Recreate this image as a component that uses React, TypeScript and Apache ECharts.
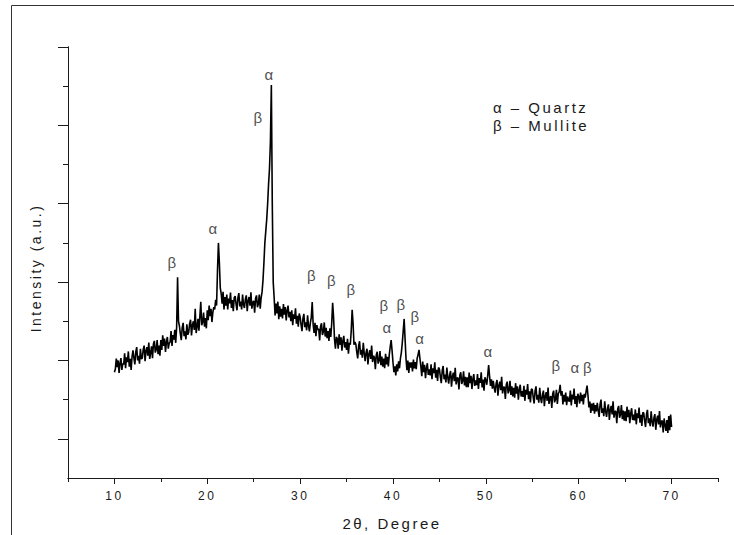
import { useEffect, useRef } from 'react';
import * as echarts from 'echarts';

// 2θ sampling of the pattern
const startDeg = 10;
const stepDeg = 0.1;

// Intensity (a.u.), one row per degree (10.0 … 69.9), then 70.0
const intensity: number[] = [
  2.70, 2.78, 3.05, 2.83, 3.00, 2.68, 2.93, 3.06, 2.76, 2.92,
  2.90, 3.18, 2.80, 3.08, 2.96, 3.23, 2.84, 3.04, 2.76, 3.10,
  3.26, 3.06, 2.90, 3.22, 3.34, 3.00, 3.12, 2.92, 3.30, 3.04,
  3.06, 3.28, 3.38, 2.98, 3.24, 3.34, 3.12, 3.46, 3.04, 3.20,
  3.36, 3.06, 3.42, 3.50, 3.20, 3.28, 3.52, 3.16, 3.38, 3.12,
  3.52, 3.27, 3.64, 3.37, 3.56, 3.22, 3.47, 3.60, 3.30, 3.44,
  3.47, 3.75, 3.37, 3.65, 3.53, 3.78, 3.45, 3.85, 5.12, 4.00,
  3.88, 3.68, 3.52, 3.84, 3.96, 3.62, 3.74, 3.54, 3.92, 3.66,
  3.72, 3.94, 4.04, 3.64, 3.90, 4.00, 3.78, 4.32, 3.70, 3.86,
  4.06, 3.76, 4.12, 4.50, 3.90, 3.98, 4.22, 3.86, 4.08, 3.82,
  4.28, 4.03, 4.40, 4.13, 4.32, 3.98, 4.23, 4.36, 4.30, 4.55,
  4.40, 5.30, 6.00, 5.50, 4.85, 4.70, 4.45, 4.75, 4.30, 4.62,
  4.40, 4.68, 4.30, 4.58, 4.46, 4.73, 4.34, 4.54, 4.26, 4.60,
  4.64, 4.44, 4.28, 4.60, 4.72, 4.38, 4.50, 4.30, 4.68, 4.42,
  4.34, 4.56, 4.66, 4.26, 4.52, 4.62, 4.40, 4.74, 4.32, 4.48,
  4.52, 4.22, 4.58, 4.66, 4.36, 4.44, 4.68, 4.32, 4.60, 4.75,
  5.05, 5.50, 6.00, 6.30, 6.60, 7.00, 7.50, 7.90, 8.60, 10.03,
  7.00, 5.00, 4.60, 4.15, 4.45, 4.20, 4.50, 4.05, 4.38, 4.12,
  4.32, 4.07, 4.44, 4.17, 4.36, 4.02, 4.27, 4.40, 4.10, 4.24,
  4.00, 4.28, 3.90, 4.18, 4.06, 4.33, 3.94, 4.14, 3.86, 4.20,
  4.11, 3.91, 3.75, 4.07, 4.19, 3.85, 3.97, 3.77, 4.15, 3.89,
  3.74, 3.96, 4.10, 4.49, 3.92, 3.70, 3.96, 3.62, 3.90, 3.78,
  3.81, 3.51, 3.87, 3.95, 3.65, 3.73, 3.97, 3.61, 3.83, 3.57,
  3.75, 3.50, 3.82, 3.60, 3.95, 4.47, 4.10, 3.55, 3.30, 3.60,
  3.55, 3.30, 3.67, 3.40, 3.59, 3.25, 3.50, 3.63, 3.33, 3.47,
  3.27, 3.55, 3.17, 3.45, 3.40, 3.75, 4.29, 3.95, 3.40, 3.47,
  3.41, 3.21, 3.05, 3.37, 3.49, 3.15, 3.27, 3.07, 3.45, 3.19,
  2.98, 3.20, 3.30, 2.90, 3.16, 3.26, 3.04, 3.38, 2.96, 3.12,
  3.08, 2.78, 3.14, 3.22, 2.92, 3.00, 3.24, 2.88, 3.10, 2.84,
  3.05, 2.80, 3.17, 2.90, 3.09, 2.85, 3.15, 3.35, 3.52, 3.25,
  2.95, 2.70, 2.85, 2.62, 2.90, 2.72, 2.98, 2.80, 3.05, 3.20,
  3.45, 3.75, 4.06, 3.55, 3.05, 2.75, 3.00, 2.68, 2.95, 2.82,
  2.95, 2.72, 3.02, 2.80, 2.96, 2.78, 3.05, 3.15, 3.27, 3.05,
  2.85, 2.60, 2.97, 2.70, 2.89, 2.55, 2.80, 2.93, 2.63, 2.77,
  2.62, 2.90, 2.52, 2.80, 2.68, 2.95, 2.56, 2.76, 2.48, 2.82,
  2.78, 2.58, 2.42, 2.74, 2.86, 2.52, 2.64, 2.44, 2.82, 2.56,
  2.41, 2.63, 2.73, 2.33, 2.59, 2.69, 2.47, 2.81, 2.39, 2.55,
  2.56, 2.26, 2.62, 2.70, 2.40, 2.48, 2.72, 2.36, 2.58, 2.32,
  2.57, 2.32, 2.69, 2.42, 2.61, 2.27, 2.52, 2.65, 2.35, 2.49,
  2.37, 2.65, 2.27, 2.55, 2.43, 2.70, 2.31, 2.51, 2.23, 2.57,
  2.50, 2.38, 2.62, 2.88, 2.60, 2.35, 2.52, 2.28, 2.48, 2.30,
  2.18, 2.40, 2.50, 2.10, 2.36, 2.46, 2.24, 2.58, 2.16, 2.32,
  2.32, 2.02, 2.38, 2.46, 2.16, 2.24, 2.48, 2.12, 2.34, 2.08,
  2.30, 2.05, 2.42, 2.15, 2.34, 2.00, 2.25, 2.38, 2.08, 2.22,
  2.07, 2.35, 1.97, 2.25, 2.13, 2.40, 2.01, 2.21, 1.93, 2.27,
  2.26, 2.06, 1.90, 2.22, 2.34, 2.00, 2.12, 1.92, 2.30, 2.04,
  1.91, 2.13, 2.23, 1.83, 2.09, 2.19, 1.97, 2.31, 1.89, 2.05,
  2.09, 1.79, 2.15, 2.23, 1.93, 2.01, 2.25, 1.89, 2.15, 2.20,
  2.38, 2.10, 2.22, 1.88, 2.12, 1.95, 2.18, 1.86, 2.08, 1.98,
  1.95, 2.23, 1.85, 2.13, 2.01, 2.28, 1.89, 2.09, 1.81, 2.15,
  2.08, 1.90, 2.18, 1.96, 2.12, 1.88, 2.15, 2.05, 2.22, 2.36,
  2.10, 1.80, 1.95, 1.66, 1.90, 1.72, 1.92, 1.64, 1.86, 1.70,
  1.92, 1.72, 1.56, 1.88, 2.00, 1.66, 1.78, 1.58, 1.96, 1.70,
  1.56, 1.78, 1.88, 1.48, 1.74, 1.84, 1.62, 1.96, 1.54, 1.70,
  1.70, 1.40, 1.76, 1.84, 1.54, 1.62, 1.86, 1.50, 1.72, 1.46,
  1.70, 1.45, 1.82, 1.55, 1.74, 1.40, 1.65, 1.78, 1.48, 1.62,
  1.47, 1.75, 1.37, 1.65, 1.53, 1.80, 1.41, 1.61, 1.33, 1.67,
  1.66, 1.46, 1.30, 1.62, 1.74, 1.40, 1.52, 1.32, 1.70, 1.44,
  1.31, 1.53, 1.63, 1.23, 1.49, 1.59, 1.37, 1.71, 1.29, 1.45,
  1.46, 1.16, 1.52, 1.35, 1.20, 1.48, 1.15, 1.58, 1.22, 1.62,
  1.30,
];

// Axis ticks
const xMajorTicks = [10, 20, 30, 40, 50, 60, 70];
const xMinorTicks = [5, 15, 25, 35, 45, 55, 65, 75];
const yMajorTicks = [1, 3, 5, 7, 9, 11];
const yMinorTicks = [2, 4, 6, 8, 10];

// Phase labels over the reflections
const peakLabelText = ['β', 'α', 'β', 'α', 'β', 'β', 'β', 'β', 'α', 'β', 'β', 'α', 'α', 'β', 'α', 'β'];
const peakLabelDeg = [16.31, 20.72, 25.57, 26.75, 31.33, 33.48, 35.58, 39.14, 39.46, 40.97, 42.48, 43.01, 50.34, 57.66, 59.71, 61.05];
const peakLabelVal = [5.51, 6.36, 9.21, 10.31, 5.17, 5.03, 4.82, 4.39, 3.83, 4.44, 4.11, 3.55, 3.23, 2.88, 2.81, 2.82];

const legendLines = ['α – Quartz', 'β – Mullite'];
const xTitle = '2θ, Degree';
const yTitle = 'Intensity (a.u.)';

export default function App() {
  const ref = useRef<HTMLDivElement>(null);

  useEffect(() => {
    if (!ref.current) return;
    const chart = echarts.init(ref.current, null, { renderer: 'svg' });
    const family = '"Liberation Sans", Arial, sans-serif';
    const axisColor = '#1a1a1a';
    const textColor = '#1a1a1a';

    const lineData = intensity.map((v, i) => [Number((startDeg + i * stepDeg).toFixed(1)), v]);
    const labelData = peakLabelText.map((t, i) => ({ name: t, value: [peakLabelDeg[i], peakLabelVal[i]] }));

    const axisLine = { show: true, lineStyle: { color: axisColor, width: 1 } };

    chart.setOption({
      animation: false,
      backgroundColor: '#ffffff',
      grid: { left: 68, right: 16, top: 47, bottom: 57, containLabel: false, outerBoundsMode: 'none' },
      xAxis: [
        {
          type: 'value', min: 5, max: 75, position: 'bottom',
          axisLine,
          axisTick: { show: true, length: 6, customValues: xMajorTicks, lineStyle: { color: axisColor, width: 1 } },
          axisLabel: { show: true, customValues: xMajorTicks, margin: 12, color: textColor, fontSize: 12, fontFamily: family },
          splitLine: { show: false },
        },
        {
          type: 'value', min: 5, max: 75, position: 'bottom',
          axisLine,
          axisTick: { show: true, length: 4, customValues: xMinorTicks, lineStyle: { color: axisColor, width: 1 } },
          axisLabel: { show: false },
          splitLine: { show: false },
        },
      ],
      yAxis: [
        {
          type: 'value', min: 0, max: 11, position: 'left',
          axisLine,
          axisTick: { show: true, length: 10, customValues: yMajorTicks, lineStyle: { color: axisColor, width: 1 } },
          axisLabel: { show: false },
          splitLine: { show: false },
        },
        {
          type: 'value', min: 0, max: 11, position: 'left',
          axisLine,
          axisTick: { show: true, length: 5, customValues: yMinorTicks, lineStyle: { color: axisColor, width: 1 } },
          axisLabel: { show: false },
          splitLine: { show: false },
        },
      ],
      series: [
        {
          type: 'line',
          xAxisIndex: 0,
          yAxisIndex: 0,
          data: lineData,
          symbol: 'none',
          showSymbol: false,
          lineStyle: { color: '#000000', width: 1.6 },
          itemStyle: { color: '#000000' },
          silent: true,
          z: 2,
        },
        {
          type: 'scatter',
          xAxisIndex: 0,
          yAxisIndex: 0,
          data: labelData,
          symbolSize: 1,
          itemStyle: { color: 'rgba(0,0,0,0)' },
          label: {
            show: true,
            position: 'inside',
            formatter: '{b}',
            color: textColor,
            fontSize: 15,
            fontFamily: family,
            align: 'center',
            verticalAlign: 'middle',
          },
          silent: true,
          z: 3,
        },
      ],
      graphic: [
        {
          type: 'rect',
          silent: true,
          z: -1,
          shape: { x: 11.5, y: 5.5, width: 800, height: 600 },
          style: { fill: 'none', stroke: '#333333', lineWidth: 1 },
        },
        {
          type: 'text',
          x: 36,
          y: 268,
          rotation: Math.PI / 2,
          style: { text: yTitle, font: `14px ${family}`, fill: textColor, textAlign: 'center', textVerticalAlign: 'middle' },
        },
        {
          type: 'text',
          x: 392,
          y: 523,
          style: { text: xTitle, font: `15px ${family}`, fill: textColor, textAlign: 'center', textVerticalAlign: 'middle' },
        },
        {
          type: 'text',
          x: 493,
          y: 107,
          style: { text: legendLines[0], font: `15px ${family}`, fill: textColor, textAlign: 'left', textVerticalAlign: 'middle' },
        },
        {
          type: 'text',
          x: 493,
          y: 125,
          style: { text: legendLines[1], font: `15px ${family}`, fill: textColor, textAlign: 'left', textVerticalAlign: 'middle' },
        },
      ],
    });

    return () => chart.dispose();
  }, []);

  return (
    <div
      ref={ref}
      style={{ position: 'fixed', left: 0, top: 0, width: 734, height: 535, letterSpacing: '2.5px', background: '#ffffff' }}
    />
  );
}
